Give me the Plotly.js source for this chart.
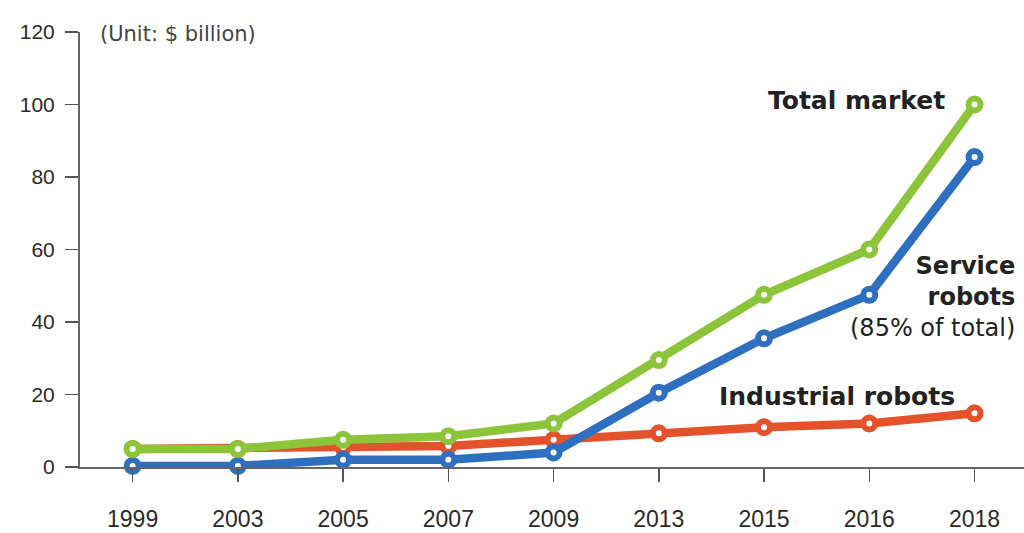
<!DOCTYPE html>
<html>
<head>
<meta charset="utf-8">
<script src="https://cdn.plot.ly/plotly-3.0.1.min.js"></script>
<style>html,body{margin:0;padding:0;background:#fff;}#chart{width:1024px;height:533px;}</style>
</head>
<body>
<div id="chart"></div>
<script>
const years = ["1999","2003","2005","2007","2009","2013","2015","2016","2018"];
const totalMarket = [5, 5, 7.5, 8.5, 12, 29.5, 47.5, 60, 100];
const serviceRobots = [0.3, 0.3, 2, 2, 4, 20.5, 35.5, 47.5, 85.5];
const industrialRobots = [5, 5, 5.5, 5.8, 7.5, 9.3, 11, 12, 14.8];
const yTicks = [0, 20, 40, 60, 80, 100, 120];

function series(y, color) {
  return {
    x: years, y: y, type: 'scatter', mode: 'lines+markers',
    line: {color: color, width: 8.5},
    marker: {size: 12, color: '#ffffff', line: {color: color, width: 6}},
    cliponaxis: false, hoverinfo: 'skip', showlegend: false
  };
}

const data = [
  series(industrialRobots, '#e4522b'),
  series(serviceRobots, '#2f6fbf'),
  series(totalMarket, '#8cc43a')
];

const textColor = '#222222';
const layout = {
  width: 1024, height: 533,
  margin: {l: 80, r: 0, t: 32, b: 66},
  paper_bgcolor: '#ffffff', plot_bgcolor: '#ffffff',
  font: {family: 'Liberation Sans, Arial, sans-serif', color: '#2a2a2a'},
  xaxis: {
    type: 'category', range: [-0.5, 8.47],
    showgrid: false, zeroline: false,
    showline: true, linecolor: '#666666', linewidth: 2,
    ticks: 'outside', ticklen: 13, tickwidth: 1.5, tickcolor: '#555555',
    tickfont: {size: 23, color: '#2a2a2a'},
    ticklabelstandoff: 17
  },
  yaxis: {
    range: [0, 120], tickvals: yTicks,
    showgrid: false, zeroline: false,
    showline: true, linecolor: '#666666', linewidth: 2,
    ticks: 'outside', ticklen: 13, tickwidth: 1.5, tickcolor: '#555555',
    tickfont: {size: 21, color: '#2a2a2a'},
    ticklabelstandoff: 6
  },
  annotations: [
    {xref: 'paper', yref: 'paper', x: 0.019, y: 0.995, xanchor: 'left', yanchor: 'middle',
     text: '(Unit: $ billion)', showarrow: false,
     font: {family: 'DejaVu Sans', size: 21, color: '#444444'}},
    {x: 6.88, y: 101.2, xref: 'x', yref: 'y', xanchor: 'center', yanchor: 'middle',
     text: '<b>Total market</b>', showarrow: false,
     font: {family: 'DejaVu Sans', size: 25, color: textColor}},
    {x: 8.40, y: 46.8, xref: 'x', yref: 'y', xanchor: 'right', yanchor: 'middle', align: 'right',
     text: '<b>Service</b><br><b>robots</b><br>(85% of total)',
     showarrow: false,
     font: {family: 'DejaVu Sans', size: 24, color: textColor}},
    {x: 6.69, y: 19.5, xref: 'x', yref: 'y', xanchor: 'center', yanchor: 'middle',
     text: '<b>Industrial robots</b>', showarrow: false,
     font: {family: 'DejaVu Sans', size: 25, color: textColor}}
  ]
};

Plotly.newPlot('chart', data, layout, {displayModeBar: false, staticPlot: true});
</script>
</body>
</html>
